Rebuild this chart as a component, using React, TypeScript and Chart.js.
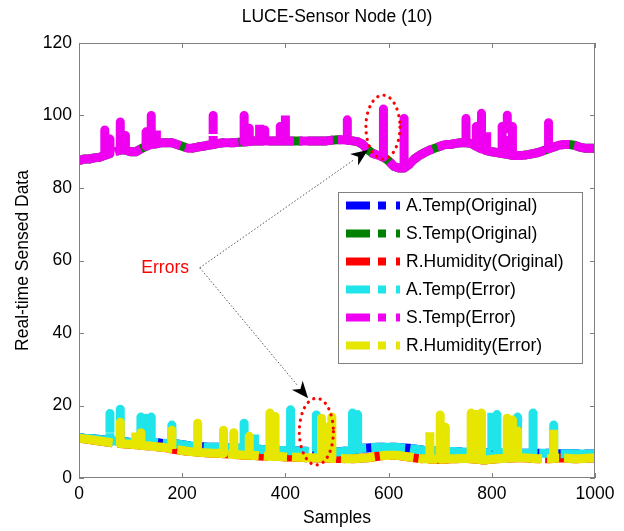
import React, { useEffect, useRef } from "react";
import { Chart, registerables } from "chart.js";

Chart.register(...registerables);

// ---------- data (one value every 10 samples, 0..1000) ----------
const SAMPLE_STEP = 10;

const aTempOriginal = [
  11.2, 11.0, 10.9, 10.8, 10.6, 10.5, 10.3, 10.2, 10.0, 10.0, 9.8,
  9.8, 9.8, 10.0, 10.0, 9.8, 9.6, 9.5, 9.5, 9.4, 9.2,
  9.0, 8.8, 8.7, 8.6, 8.5, 8.5, 8.5, 8.4, 8.3, 8.2,
  8.2, 8.1, 8.0, 8.0, 7.9, 7.8, 7.8, 7.7, 7.6, 7.6,
  7.5, 7.5, 7.4, 7.4, 7.3, 7.3, 7.3, 7.2, 7.2, 7.2,
  7.3, 7.5, 7.8, 8.0, 8.2, 8.3, 8.4, 8.5, 8.5, 8.5,
  8.5, 8.4, 8.3, 8.2, 8.0, 7.8, 7.6, 7.5, 7.5, 7.4,
  7.4, 7.3, 7.3, 7.2, 7.2, 7.1, 7.1, 7.0, 7.0, 7.0,
  7.0, 7.0, 6.9, 6.9, 6.9, 6.8, 6.8, 6.8, 6.8, 6.8,
  6.8, 6.8, 6.7, 6.7, 6.7, 6.7, 6.6, 6.6, 6.6, 6.6,
];

const sTempOriginal = [
  87.5, 88.0, 88.0, 88.3, 88.5, 89.0, 89.5, 90.0, 90.5, 90.5, 90.0,
  90.0, 90.8, 91.5, 92.0, 92.2, 92.5, 92.5, 92.5, 92.0, 91.5,
  91.0, 91.0, 91.3, 91.5, 91.8, 92.0, 92.3, 92.5, 92.5, 92.5,
  92.6, 92.7, 92.8, 93.0, 93.0, 93.0, 93.0, 93.0, 93.0, 93.0,
  93.0, 93.0, 93.0, 93.0, 93.0, 93.0, 93.0, 93.0, 93.2, 93.3,
  93.3, 93.2, 93.0, 92.8, 92.0, 90.5, 89.5, 89.0, 88.5, 87.5,
  86.0, 85.5, 85.5, 86.5, 88.0, 89.0, 89.8, 90.5, 91.0, 91.5,
  92.0, 92.0, 92.3, 92.5, 92.5, 92.3, 91.5, 90.8, 90.3, 90.0,
  89.8, 89.5, 89.3, 89.0, 89.0, 89.0, 89.2, 89.5, 89.8, 90.3,
  90.8, 91.3, 91.8, 92.0, 92.0, 91.8, 91.3, 91.0, 91.0, 91.0,
];

const rHumOriginal = [
  11.0, 10.8, 10.6, 10.4, 10.2, 10.0, 9.8, 9.6, 9.5, 9.4, 9.3,
  9.2, 9.0, 8.9, 8.8, 8.6, 8.5, 8.3, 8.0, 7.8, 7.6,
  7.4, 7.2, 7.1, 7.0, 6.9, 6.8, 6.8, 6.7, 6.6, 6.5,
  6.4, 6.3, 6.3, 6.2, 6.1, 6.0, 6.0, 5.9, 5.9, 5.8,
  5.8, 5.7, 5.7, 5.6, 5.6, 5.5, 5.5, 5.5, 5.4, 5.4,
  5.4, 5.3, 5.3, 5.4, 5.5, 5.6, 5.8, 6.0, 6.2, 6.3,
  6.3, 6.2, 6.0, 5.8, 5.6, 5.4, 5.3, 5.2, 5.2, 5.2,
  5.2, 5.3, 5.3, 5.4, 5.4, 5.3, 5.2, 5.0, 5.0, 5.2,
  5.3, 5.4, 5.5, 5.5, 5.6, 5.6, 5.5, 5.4, 5.3, 5.3,
  5.3, 5.4, 5.5, 5.5, 5.4, 5.3, 5.3, 5.4, 5.5, 5.5,
];

// erroneous readings (sample index, faulty value)
const aTempErrAt = [60, 80, 120, 130, 140, 180, 280, 320, 340, 410, 460, 530, 540, 770, 800, 810, 850, 880, 920];
const aTempErrTop = [17.8, 19.0, 16.8, 16.5, 16.8, 14.6, 13.2, 15.1, 12.7, 18.8, 17.4, 17.9, 17.5, 16.5, 18.2, 17.5, 16.8, 17.9, 14.6];

const sTempErrAt = [50, 60, 80, 90, 130, 140, 150, 260, 320, 330, 350, 360, 390, 400, 520, 590, 630, 750, 770, 780, 790, 820, 830, 840, 910];
const sTempErrTop = [96.0, 93.5, 98.2, 94.5, 95.5, 100.0, 96.0, 100.0, 100.0, 96.5, 97.5, 96.0, 97.0, 100.5, 98.8, 101.8, 99.2, 99.2, 97.0, 100.6, 96.0, 97.0, 100.1, 97.0, 98.0];

const rHumErrAt = [80, 110, 120, 180, 230, 280, 300, 330, 370, 380, 470, 480, 490, 680, 700, 710, 760, 770, 780, 830, 840, 850, 920];
const rHumErrTop = [15.4, 13.2, 12.5, 13.2, 15.1, 13.2, 12.5, 11.5, 17.9, 17.0, 16.5, 14.0, 16.8, 12.7, 17.4, 14.0, 17.9, 17.5, 17.9, 16.5, 16.0, 13.0, 13.8];

const seriesLabels = [
  "A.Temp(Original)",
  "S.Temp(Original)",
  "R.Humidity(Original)",
  "A.Temp(Error)",
  "S.Temp(Error)",
  "R.Humidity(Error)",
];
const seriesColors = ["#0000ff", "#008000", "#ff0000", "#1fe5ea", "#f000f0", "#e6e600"];

const xTickValues = [0, 200, 400, 600, 800, 1000];
const yTickValues = [0, 20, 40, 60, 80, 100, 120];

// annotation anchors in data units
const errorsLabel = { x: 167, y: 58 };
const arrowStart = { x: 234, y: 58 };
const arrowTipUpper = { x: 560, y: 90.5 };
const arrowTipLower = { x: 444, y: 22 };
const ellipseUpper = { x: 589, y: 96.8, rx: 33, ry: 8.8 };
const ellipseLower = { x: 460, y: 12.8, rx: 33, ry: 9.2 };

const FONT = '"Liberation Sans", Arial, Helvetica, sans-serif';
const FS = 17.5;

function plain(base: number[]) {
  return base.map((v, i) => ({ x: i * SAMPLE_STEP, y: v }));
}

function withSpikes(base: number[], at: number[], top: number[]) {
  const pts: { x: number; y: number }[] = [];
  base.forEach((v, i) => {
    const x = i * SAMPLE_STEP;
    pts.push({ x, y: v });
    const k = at.indexOf(x);
    if (k >= 0) {
      pts.push({ x, y: top[k] });
      pts.push({ x, y: v });
    }
  });
  return pts;
}

const decorPlugin = {
  id: "decor",
  afterDraw(chart: any) {
    const { ctx, chartArea: a, scales } = chart;
    const sx = scales.x;
    const sy = scales.y;
    ctx.save();

    // axes box and inward ticks
    ctx.strokeStyle = "#808080";
    ctx.lineWidth = 1;
    ctx.strokeRect(a.left + 0.5, a.top + 0.5, a.right - a.left - 1, a.bottom - a.top - 1);
    ctx.beginPath();
    xTickValues.forEach((v) => {
      const px = Math.round(sx.getPixelForValue(v)) + 0.5;
      ctx.moveTo(px, a.bottom);
      ctx.lineTo(px, a.bottom - 5);
      ctx.moveTo(px, a.top);
      ctx.lineTo(px, a.top + 5);
    });
    yTickValues.forEach((v) => {
      const py = Math.round(sy.getPixelForValue(v)) + 0.5;
      ctx.moveTo(a.left, py);
      ctx.lineTo(a.left + 5, py);
      ctx.moveTo(a.right, py);
      ctx.lineTo(a.right - 5, py);
    });
    ctx.stroke();

    // titles
    ctx.fillStyle = "#000";
    ctx.font = `${FS}px ${FONT}`;
    ctx.textAlign = "center";
    ctx.textBaseline = "middle";
    const cx = (a.left + a.right) / 2;
    ctx.fillText("LUCE-Sensor Node (10)", cx, 17);
    ctx.fillText("Samples", cx, 518);
    ctx.save();
    ctx.translate(23, (a.top + a.bottom) / 2);
    ctx.rotate(-Math.PI / 2);
    ctx.fillText("Real-time Sensed Data", 0, 0);
    ctx.restore();

    // legend
    const lx = a.right - 257;
    const ly = a.top + 149;
    const lw = 244;
    const lh = 171;
    ctx.fillStyle = "#fff";
    ctx.fillRect(lx, ly, lw, lh);
    ctx.strokeStyle = "#808080";
    ctx.strokeRect(lx + 0.5, ly + 0.5, lw, lh);
    ctx.textAlign = "left";
    seriesLabels.forEach((lab, i) => {
      const ry = ly + 13.5 + i * 28;
      ctx.fillStyle = seriesColors[i];
      ctx.fillRect(lx + 8, ry - 4, 24, 8);
      ctx.fillRect(lx + 40, ry - 4, 8, 8);
      ctx.fillRect(lx + 58, ry - 4, 4, 8);
      ctx.fillStyle = "#000";
      ctx.fillText(lab, lx + 68, ry + 1);
    });

    // annotations
    const p = (pt: { x: number; y: number }) => [sx.getPixelForValue(pt.x), sy.getPixelForValue(pt.y)];
    ctx.fillStyle = "#ff0000";
    ctx.textAlign = "center";
    const [ex, ey] = p(errorsLabel);
    ctx.fillText("Errors", ex, ey);

    const [ax, ay] = p(arrowStart);
    const drawArrow = (tip: { x: number; y: number }) => {
      const [tx, ty] = p(tip);
      const ang = Math.atan2(ty - ay, tx - ax);
      const len = 17;
      const bx = tx - Math.cos(ang) * len;
      const by = ty - Math.sin(ang) * len;
      ctx.save();
      ctx.strokeStyle = "#555";
      ctx.lineWidth = 1;
      ctx.setLineDash([1.5, 2]);
      ctx.beginPath();
      ctx.moveTo(ax, ay);
      ctx.lineTo(bx, by);
      ctx.stroke();
      ctx.restore();
      const nx = -Math.sin(ang);
      const ny = Math.cos(ang);
      const nb = tx - Math.cos(ang) * (len - 5);
      const nby = ty - Math.sin(ang) * (len - 5);
      ctx.fillStyle = "#000";
      ctx.beginPath();
      ctx.moveTo(tx, ty);
      ctx.lineTo(bx + nx * 7, by + ny * 7);
      ctx.lineTo(nb, nby);
      ctx.lineTo(bx - nx * 7, by - ny * 7);
      ctx.closePath();
      ctx.fill();
    };
    drawArrow(arrowTipUpper);
    drawArrow(arrowTipLower);

    const drawEllipse = (e: { x: number; y: number; rx: number; ry: number }) => {
      const [cx2, cy2] = p(e);
      const rxp = Math.abs(sx.getPixelForValue(e.x + e.rx) - cx2);
      const ryp = Math.abs(sy.getPixelForValue(e.y + e.ry) - cy2);
      ctx.save();
      ctx.strokeStyle = "#ff0000";
      ctx.lineWidth = 3.2;
      ctx.lineCap = "round";
      ctx.setLineDash([0.1, 6.5]);
      ctx.beginPath();
      ctx.ellipse(cx2, cy2, rxp, ryp, 0, 0, Math.PI * 2);
      ctx.stroke();
      ctx.restore();
    };
    drawEllipse(ellipseUpper);
    drawEllipse(ellipseLower);

    ctx.restore();
  },
};

export default function App() {
  const ref = useRef<HTMLCanvasElement | null>(null);

  useEffect(() => {
    if (!ref.current) return;
    const lineStyle = {
      borderWidth: 9,
      pointRadius: 0,
      tension: 0,
      borderDash: [34, 5],
      borderJoinStyle: "round" as const,
      borderCapStyle: "butt" as const,
      fill: false,
    };
    const data = [
      plain(aTempOriginal),
      plain(sTempOriginal),
      plain(rHumOriginal),
      withSpikes(aTempOriginal, aTempErrAt, aTempErrTop),
      withSpikes(sTempOriginal, sTempErrAt, sTempErrTop),
      withSpikes(rHumOriginal, rHumErrAt, rHumErrTop),
    ];
    const chart = new Chart(ref.current, {
      type: "line",
      data: {
        datasets: data.map((d, i) => ({
          label: seriesLabels[i],
          data: d,
          borderColor: seriesColors[i],
          backgroundColor: seriesColors[i],
          order: 6 - i,
          ...lineStyle,
        })),
      },
      options: {
        animation: false,
        responsive: false,
        devicePixelRatio: 1,
        events: [],
        layout: { padding: { left: 0, top: 43, right: 29, bottom: 0 } },
        plugins: { legend: { display: false }, title: { display: false }, tooltip: { enabled: false } },
        scales: {
          x: {
            type: "linear",
            min: 0,
            max: 1000,
            grid: { display: false, drawTicks: false },
            border: { display: false },
            ticks: {
              stepSize: 200,
              padding: 6,
              color: "#000",
              font: { family: FONT, size: FS },
              maxRotation: 0,
              callback: (v: any) => String(v),
            },
            afterFit: (s: any) => {
              s.height = 53;
            },
          },
          y: {
            type: "linear",
            min: 0,
            max: 120,
            grid: { display: false, drawTicks: false },
            border: { display: false },
            ticks: {
              stepSize: 20,
              padding: 7,
              color: "#000",
              font: { family: FONT, size: FS },
              callback: (v: any) => String(v),
            },
            afterFit: (s: any) => {
              s.width = 79;
            },
          },
        },
      },
      plugins: [decorPlugin],
    });
    return () => chart.destroy();
  }, []);

  return (
    <div style={{ position: "fixed", left: 0, top: 0, width: 624, height: 531, background: "#fff" }}>
      <canvas ref={ref} width={624} height={531} />
    </div>
  );
}
